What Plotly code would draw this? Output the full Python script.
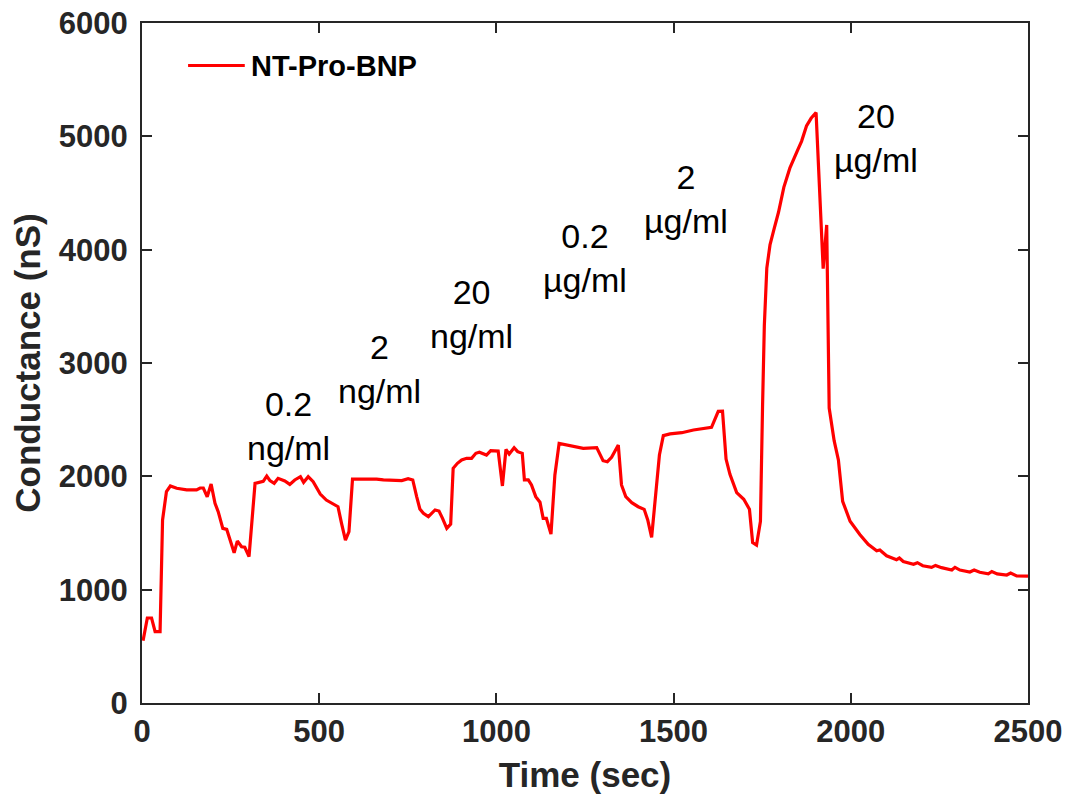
import plotly.graph_objects as go

# Conductance trace of the NT-Pro-BNP sensor over time
time_sec = [
    3, 15, 27, 37, 51, 58, 69, 80, 98, 126, 154, 164, 173, 184, 195, 206, 215,
    228, 239, 248, 260, 269, 281, 290, 302, 319, 333, 342, 352, 361, 373, 384,
    403, 417, 431, 447, 456, 469, 483, 492, 503, 520, 553, 563, 574, 584, 594,
    624, 662, 681, 733, 751, 764, 775, 784, 794, 808, 827, 838, 848, 860, 871,
    878, 890, 902, 916, 930, 942, 952, 972, 984, 1005, 1017, 1027, 1036, 1050,
    1060, 1073, 1079, 1090, 1099, 1111, 1123, 1132, 1141, 1154, 1165, 1177,
    1208, 1245, 1283, 1301, 1313, 1325, 1344, 1353, 1365, 1382, 1400, 1417,
    1427, 1438, 1460, 1471, 1490, 1523, 1556, 1607, 1626, 1638, 1648, 1659,
    1678, 1698, 1714, 1723, 1734, 1745, 1751, 1756, 1763, 1772, 1783, 1796,
    1811, 1828, 1850, 1861, 1875, 1888, 1902, 1911, 1922, 1932, 1939, 1953,
    1965, 1977, 1998, 2026, 2049, 2073, 2082, 2101, 2129, 2137, 2148, 2177,
    2188, 2203, 2228, 2239, 2256, 2285, 2294, 2308, 2336, 2348, 2364, 2388,
    2398, 2413, 2440, 2451, 2468, 2500,
]
conductance_ns = [
    550, 750, 750, 630, 630, 1615, 1865, 1915, 1895, 1880, 1880, 1897, 1897,
    1820, 1932, 1762, 1688, 1541, 1532, 1438, 1326, 1429, 1379, 1374, 1291,
    1938, 1953, 1956, 2003, 1962, 1938, 1982, 1959, 1929, 1968, 1997, 1947,
    1997, 1953, 1909, 1844, 1791, 1732, 1585, 1438, 1512, 1976, 1976, 1976,
    1968, 1962, 1979, 1968, 1821, 1712, 1674, 1644, 1703, 1694, 1629, 1541,
    1579, 2071, 2115, 2144, 2159, 2159, 2203, 2212, 2188, 2226, 2223, 1915,
    2238, 2197, 2253, 2218, 2203, 1968, 1968, 1924, 1821, 1771, 1629, 1629,
    1491, 2012, 2291, 2271, 2247, 2253, 2138, 2129, 2168, 2276, 1924, 1821,
    1768, 1732, 1709, 1615, 1462, 2188, 2359, 2374, 2385, 2409, 2432, 2573,
    2575, 2152, 2018, 1856, 1798, 1710, 1416, 1394, 1602, 2619, 3330, 3838,
    4042, 4177, 4330, 4550, 4719, 4878, 4956, 5091, 5159, 5210, 4651, 3832,
    4218, 2602, 2315, 2145, 1780, 1604, 1485, 1400, 1343, 1350, 1299, 1265,
    1279, 1248, 1224, 1238, 1211, 1197, 1214, 1194, 1173, 1197, 1173, 1156,
    1173, 1153, 1139, 1160, 1139, 1129, 1146, 1122, 1119,
]

# Concentration labels and where they sit
conc_labels = ["0.2<br>ng/ml", "2<br>ng/ml", "20<br>ng/ml",
               "0.2<br>µg/ml", "2<br>µg/ml", "20<br>µg/ml"]
conc_label_x = [413, 670, 929, 1250, 1535, 2071]
conc_label_y = [2440, 2950, 3430, 3925, 4445, 4985]

x_ticks = [0, 500, 1000, 1500, 2000, 2500]
y_ticks = [0, 1000, 2000, 3000, 4000, 5000, 6000]

series_name = "NT-Pro-BNP"
FONT = "Liberation Sans, Arial, Helvetica, sans-serif"
AXIS_COLOR = "#262626"

fig = go.Figure()
fig.add_trace(go.Scatter(
    x=time_sec, y=conductance_ns, mode="lines", name=series_name,
    line=dict(color="#ff0000", width=3.2), showlegend=False,
))

for txt, lx, ly in zip(conc_labels, conc_label_x, conc_label_y):
    fig.add_annotation(
        x=lx, y=ly, xref="x", yref="y", text=txt, showarrow=False,
        xanchor="center", yanchor="middle", align="center",
        font=dict(family=FONT, size=34, color="#000000"),
    )

# Legend entry: short red line followed by the series name
fig.add_shape(type="line", xref="paper", yref="paper",
              x0=0.052, x1=0.116, y0=0.9375, y1=0.9375,
              line=dict(color="#ff0000", width=3.2))
fig.add_annotation(
    x=0.121, y=0.9375, xref="paper", yref="paper", text=series_name,
    showarrow=False, xanchor="left", yanchor="middle",
    font=dict(family=FONT, size=29, color="#000000", weight="bold"),
)

axis_common = dict(
    showline=True, linecolor=AXIS_COLOR, linewidth=2, mirror="ticks",
    ticks="inside", ticklen=10, tickwidth=2, tickcolor=AXIS_COLOR,
    showgrid=False, zeroline=False, automargin=False,
    tickfont=dict(family=FONT, size=31, color=AXIS_COLOR, weight="bold"),
)

fig.update_xaxes(
    range=[0, 2500], tickvals=x_ticks, ticktext=[str(v) for v in x_ticks],
    title=dict(text="Time (sec)", standoff=14,
               font=dict(family=FONT, size=35, color=AXIS_COLOR, weight="bold")),
    **axis_common,
)
fig.update_yaxes(
    range=[0, 6000], tickvals=y_ticks, ticktext=[str(v) for v in y_ticks],
    ticklabelstandoff=6,
    title=dict(text="Conductance (nS)", standoff=8,
               font=dict(family=FONT, size=35, color=AXIS_COLOR, weight="bold")),
    **axis_common,
)

fig.update_layout(
    width=1076, height=802,
    margin=dict(l=142, r=48, t=23, b=99),
    plot_bgcolor="#ffffff", paper_bgcolor="#ffffff",
    showlegend=False,
)

fig.write_html("out.html")
